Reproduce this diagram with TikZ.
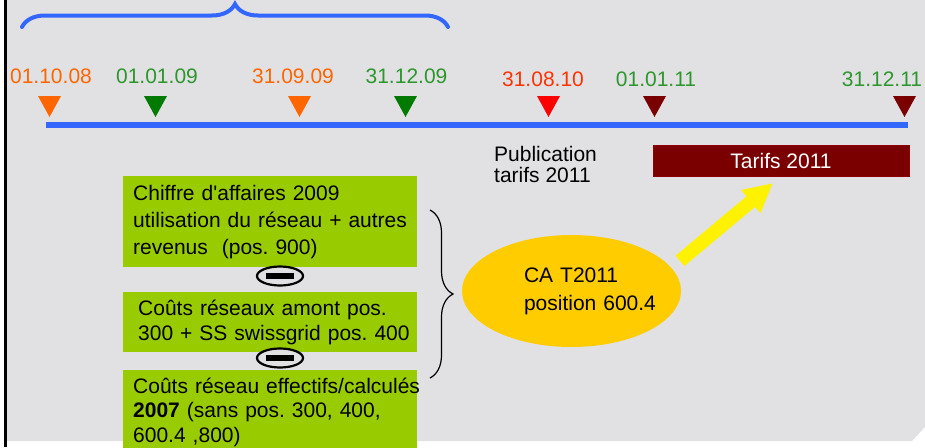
\documentclass[tikz,border=0pt]{standalone}
\usepackage{fontspec}
\setmainfont{Liberation Sans}
\usepackage{xcolor}
\usepackage{tikz}
\usetikzlibrary{shapes.geometric, arrows.meta, positioning, decorations.pathreplacing}

\definecolor{bggray}{RGB}{225,225,228}
\definecolor{lineblue}{RGB}{51,102,255}
\definecolor{dorange}{RGB}{255,102,0}
\definecolor{dgreen}{RGB}{45,150,45}
\definecolor{trigreen}{RGB}{0,122,0}
\definecolor{dred}{RGB}{255,51,0}
\definecolor{trired}{RGB}{255,0,0}
\definecolor{darkred}{RGB}{122,0,0}
\definecolor{boxgreen}{RGB}{153,204,0}
\definecolor{blobyellow}{RGB}{255,204,0}

% down-pointing marker on the time line: x position, colour
\newcommand{\downtri}[2]{\fill[#2] (#1-11.5,96) -- (#1+11.5,96) -- (#1,117) -- cycle;}

\begin{document}
\frenchspacing
\begin{tikzpicture}[
  x=1pt, y=-1pt,
  font=\fontsize{21}{27}\selectfont,
  date/.style={anchor=base, inner sep=0pt},
  infobox/.style={rectangle, fill=boxgreen, text width=274pt, inner xsep=10pt,
                  inner ysep=8pt, align=left},
  minus/.style={ellipse, draw=black, line width=2.2pt, fill=bggray,
                minimum width=46pt, minimum height=19pt, inner sep=0pt},
  cablob/.style={ellipse, fill=blobyellow, minimum width=219pt, minimum height=112pt,
                 inner sep=0pt, text width=95pt, align=left,
                 font=\fontsize{21}{28}\selectfont},
  tarifbox/.style={rectangle, fill=darkred, draw=darkred!85!red, text=white,
                   minimum width=256pt, minimum height=31pt, inner sep=0pt},
  bluebrace/.style={decorate, decoration={brace, amplitude=23pt}, draw=lineblue,
                    line width=4pt, line cap=round},
  blackbrace/.style={decorate, decoration={brace, amplitude=23pt}, draw=black,
                     line width=1.2pt},
  timeline/.style={draw=lineblue, line width=6pt},
  yarrow/.style={-{Triangle[width=28pt, length=29pt]}, draw=yellow, line width=13.5pt}
]
  \useasboundingbox (0,0) rectangle (925,447);
  \fill[white] (0,0) rectangle (925,447);
  \fill[bggray] (5,0) -- (925,0) -- (925,427) -- (912,441) -- (5,441) -- cycle;
  \draw[line width=2.5pt] (5.3,0) -- (5.3,447);

  % time line
  \draw[bluebrace] (22,27) -- (448,27);
  \node[date, text=dorange] (d1) at (51,83)    {01.10.08};
  \node[date, text=dgreen]  (d2) at (157,83)   {01.01.09};
  \node[date, text=dorange] (d3) at (293,83)   {31.09.09};
  \node[date, text=dgreen]  (d4) at (406.5,83) {31.12.09};
  \node[date, text=dred]    (d5) at (543,86)   {31.08.10};
  \node[date, text=dgreen]  (d6) at (656,86)   {01.01.11};
  \node[date, text=dgreen]  (d7) at (882,86)   {31.12.11};
  \downtri{49.5}{dorange}
  \downtri{155.5}{trigreen}
  \downtri{299.5}{dorange}
  \downtri{405.5}{trigreen}
  \downtri{548.5}{trired}
  \downtri{654.5}{darkred}
  \downtri{904.5}{darkred}
  \draw[timeline] (46,125) -- (908,125);

  \node[anchor=north west, inner sep=0pt, align=left, font=\fontsize{21}{21}\selectfont]
    (pub) at (494,146) {Publication\\tarifs 2011};
  \node[tarifbox] (tarifs) at (781,160.5) {Tarifs 2011};

  % calculation
  \node[infobox, anchor=north west, minimum height=91pt] (box1) at (123,176)
    {Chiffre d\textquotesingle affaires 2009\\utilisation du réseau + autres\\revenus~ (pos. 900)};
  \node[infobox, below=24pt of box1.south west, anchor=north west, minimum height=60pt,
        font=\fontsize{21}{25}\selectfont] (box2)
    {\hspace*{5pt}Coûts réseaux amont pos.\\\hspace*{5pt}\mbox{300 + SS swissgrid pos. 400}};
  \node[infobox, below=17pt of box2.south west, anchor=north west,
        font=\fontsize{21}{24.5}\selectfont] (box3)
    {\mbox{Coûts réseau effectifs/calculés}\\\textbf{2007} (sans pos. 300, 400,\\600.4 ,800)};
  \node[minus] (m1) at (280,276) {\rule{28pt}{6pt}};
  \node[minus] (m2) at (280,358) {\rule{28pt}{6pt}};
  \draw[blackbrace] (430,210) -- (430,378);

  \node[cablob] (ca) at (571.5,291) {CA T2011\\\mbox{position 600.4}};
  \coordinate (tip) at (773,183);
  \draw[yarrow, shorten <=11pt] (ca.13) -- (tip);
\end{tikzpicture}
\end{document}
